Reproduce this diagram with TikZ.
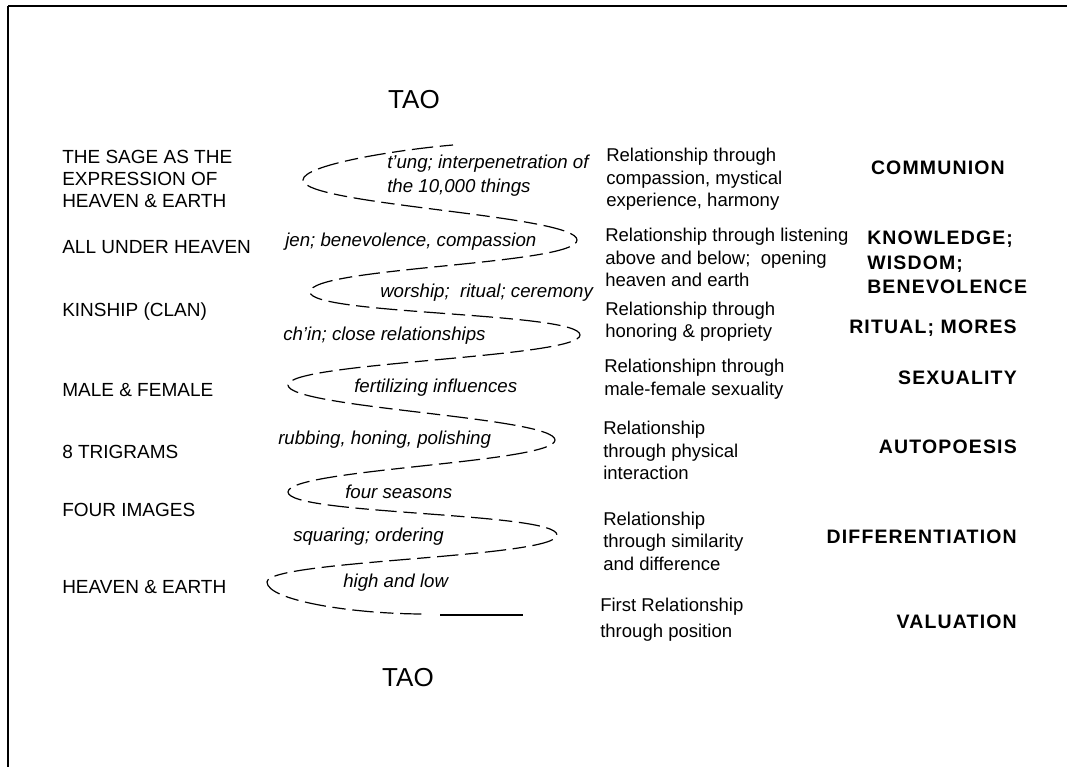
\documentclass[tikz,border=0pt]{standalone}
\usepackage{fontspec}
\setmainfont{Liberation Sans}
\usetikzlibrary{positioning}

\begin{document}
\begin{tikzpicture}[x=0.75pt,y=-0.75pt,
  stage/.style={anchor=west, align=left, inner sep=0pt, font=\fontsize{14.25}{16.5}\selectfont},
  relation/.style={anchor=west, align=left, inner sep=0pt, font=\fontsize{13.9}{16.9}\selectfont},
  virtue/.style={anchor=east, align=left, inner sep=0pt, font=\fontsize{14.6}{18.4}\selectfont\bfseries\addfontfeature{LetterSpace=6}},
  flow/.style={anchor=west, align=left, inner sep=0pt, font=\fontsize{14}{18}\selectfont\itshape},
  tao/.style={inner sep=0pt, font=\fontsize{19.5}{22}\selectfont},
  spiral/.style={line width=0.9pt, dash pattern=on 10pt off 5pt on 16pt off 5pt}]
\useasboundingbox (0,0) rectangle (1067,767);
\draw[line width=2.2pt] (8,6) -- (1067,6);
\draw[line width=1.5pt] (8,6) -- (8,767);

\node[tao] (taotop) at (414,100) {TAO};
\node[tao] (taobottom) at (408,678) {TAO};

\node[stage] (sage) at (62,178.5) {THE SAGE AS THE\\EXPRESSION OF\\HEAVEN \& EARTH};
\node[stage] (allheaven) at (62,247) {ALL UNDER HEAVEN};
\node[stage] (kinship) at (62,312) {KINSHIP (CLAN)};
\node[stage] (malefemale) at (62,390) {MALE \& FEMALE};
\node[stage] (trigrams) at (62,452) {8 TRIGRAMS};
\node[stage] (images) at (62,510) {FOUR IMAGES};
\node[stage] (heavenearth) at (62,587) {HEAVEN \& EARTH};

\node[relation] (rel1) at (606,179.5) {Relationship through\\compassion, mystical\\experience, harmony};
\node[relation] (rel2) at (605,257.5) {Relationship through listening\\above and below; \ opening\\heaven and earth};
\node[relation] (rel3) at (605,321.5) {Relationship through\\honoring \& propriety};
\node[relation] (rel4) at (604,379) {Relationshipn through\\male-female sexuality};
\node[relation] (rel5) at (603,450.5) {Relationship\\through physical\\interaction};
\node[relation] (rel6) at (603,541) {Relationship\\through similarity\\and difference};
\node[relation, font=\fontsize{13.9}{19.5}\selectfont] (rel7) at (600,620) {First Relationship\\through position};

\node[virtue] (communion) at (1005,168) {COMMUNION};
\node[virtue, anchor=west] (knowledge) at (867,262.5) {KNOWLEDGE;\\WISDOM;\\BENEVOLENCE};
\node[virtue] (ritual) at (1017,328) {RITUAL; MORES};
\node[virtue] (sexuality) at (1017,378) {SEXUALITY};
\node[virtue] (autopoesis) at (1017,447) {AUTOPOESIS};
\node[virtue] (differentiation) at (1017,537) {DIFFERENTIATION};
\node[virtue] (valuation) at (1017,622) {VALUATION};

\node[flow] (tung) at (387,176) {t'ung; interpenetration of\\the 10,000 things};
\node[flow] (jen) at (285,242) {jen; benevolence, compassion};
\node[flow] (worship) at (380,293) {worship; \ ritual; ceremony};
\node[flow] (chin) at (283,336) {ch'in; close relationships};
\node[flow] (fertile) at (354,388) {fertilizing influences};
\node[flow] (rubbing) at (278,440) {rubbing, honing, polishing};
\node[flow] (seasons) at (345,492) {four seasons};
\node[flow] (squaring) at (293,537) {squaring; ordering};
\node[flow] (highlow) at (343,583) {high and low};

\coordinate (start) at (453,145);
\coordinate (left1) at (303,180);
\coordinate (right1) at (577,240);
\coordinate (left2) at (310,292);
\coordinate (right2) at (580,335);
\coordinate (left3) at (288,385);
\coordinate (right3) at (555,440);
\coordinate (left4) at (288,492);
\coordinate (right4) at (557,535);
\coordinate (left5) at (267,582);
\coordinate (gap) at (425,614);
\coordinate (flat) at (440,615);
\coordinate (stop) at (523,615);

\draw[spiral] (start) .. controls (395,150) and (303,165) .. (left1)
  .. controls (303,205) and (577,215) .. (right1)
  .. controls (577,265) and (310,267) .. (left2)
  .. controls (310,315) and (580,312) .. (right2)
  .. controls (580,358) and (288,362) .. (left3)
  .. controls (288,408) and (555,417) .. (right3)
  .. controls (555,463) and (288,469) .. (left4)
  .. controls (288,515) and (557,512) .. (right4)
  .. controls (557,558) and (267,560) .. (left5)
  .. controls (267,600) and (350,614) .. (gap);
\draw[line width=0.9pt] (flat) -- (stop);
\end{tikzpicture}
\end{document}
